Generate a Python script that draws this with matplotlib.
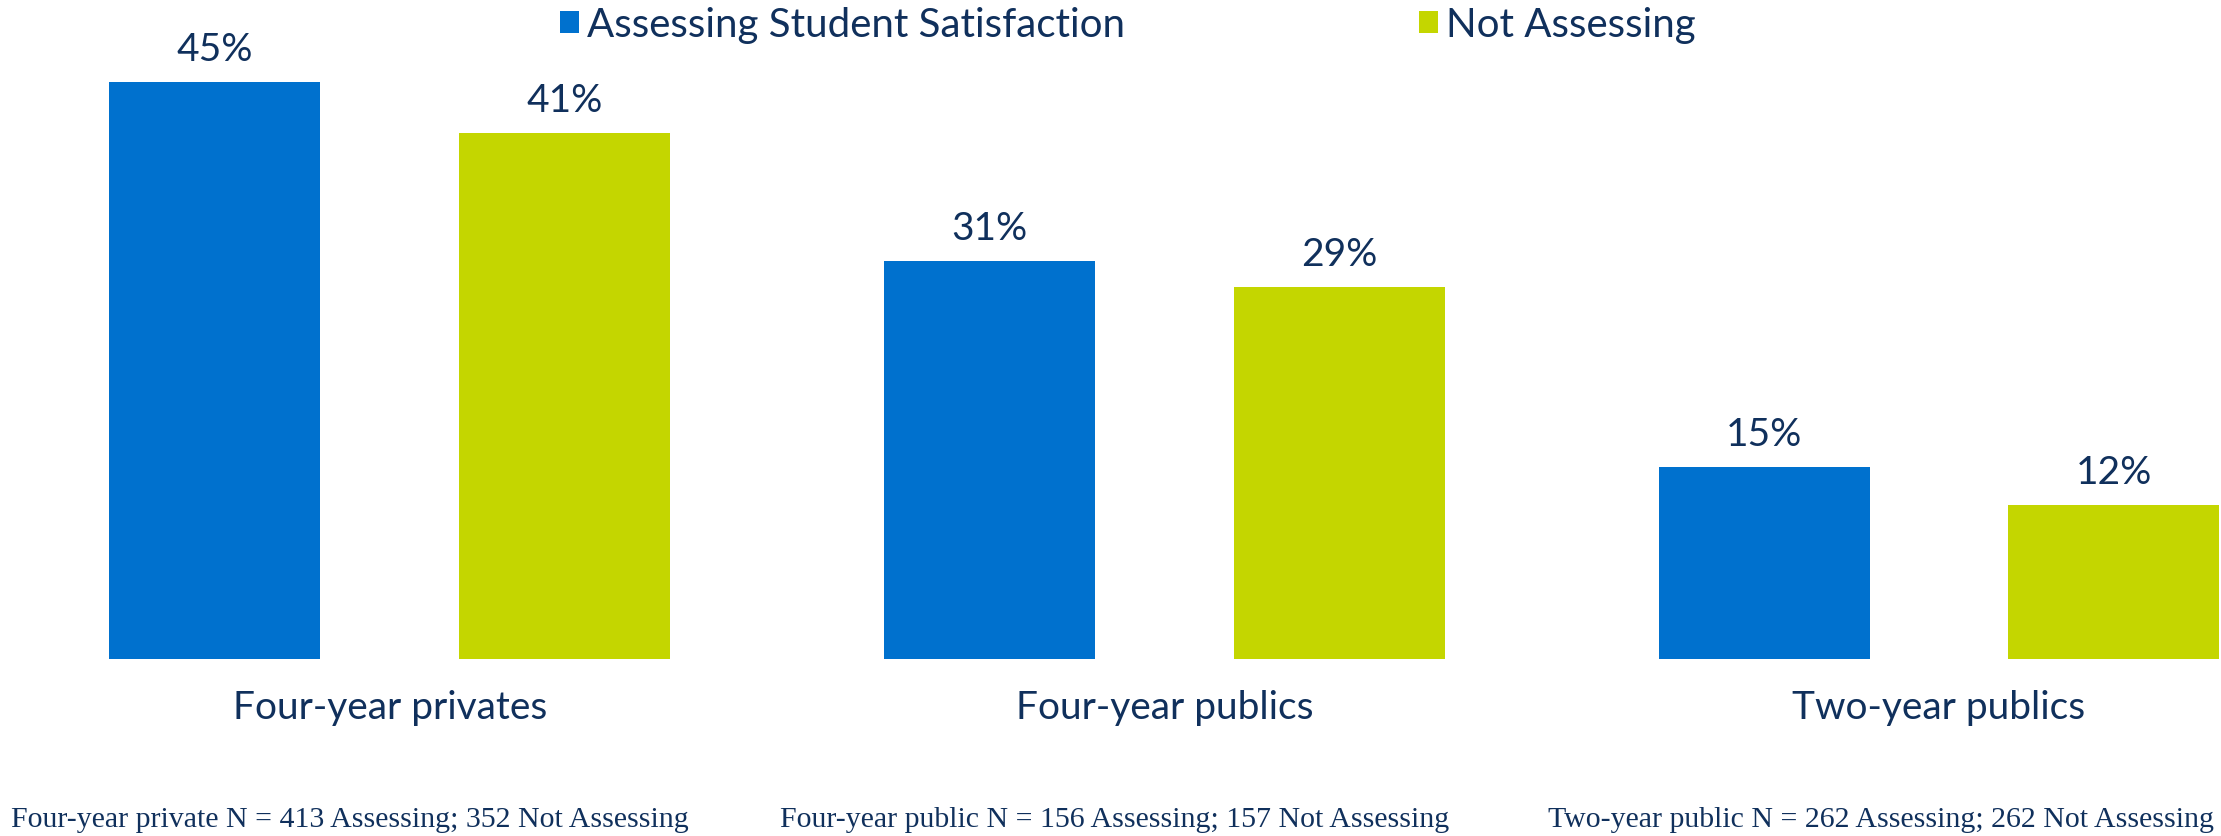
import numpy as np
import matplotlib
matplotlib.use("Agg")
import matplotlib.pyplot as plt

categories = ["Four-year privates", "Four-year publics", "Two-year publics"]
assessing = [45, 31, 15]
not_assessing = [41, 29, 12]
series_names = ["Assessing Student Satisfaction", "Not Assessing"]
notes = [
    "Four-year private N = 413 Assessing; 352 Not Assessing",
    "Four-year public N = 156 Assessing; 157 Not Assessing",
    "Two-year public N = 262 Assessing; 262 Not Assessing",
]

blue = "#0071CE"
green = "#C4D600"
navy = "#10305C"

plt.rcParams["font.family"] = ["Lato", "DejaVu Sans"]

fig = plt.figure(figsize=(22.21, 8.36), dpi=100)
ax = fig.add_axes([0, 0.2117, 1, 0.7883])

x = np.arange(len(categories))
w = 0.2725
off = 0.4516 / 2
b1 = ax.bar(x - off, assessing, w, color=blue, label=series_names[0])
b2 = ax.bar(x + off, not_assessing, w, color=green, label=series_names[1])

for bars, vals in ((b1, assessing), (b2, not_assessing)):
    for r, v in zip(bars, vals):
        ax.annotate(f"{v}%", (r.get_x() + r.get_width() / 2, v),
                    xytext=(0, 10), textcoords="offset points",
                    ha="center", va="bottom", fontsize=28, color=navy)

ax.set_xlim(-0.503, 2.364)
ax.set_ylim(0, 51.36)
ax.set_xticks(x)
ax.set_xticklabels(categories, fontsize=28, color=navy)
ax.tick_params(axis="x", length=0, pad=22)
ax.set_yticks([])
for s in ax.spines.values():
    s.set_visible(False)

ax.legend(loc="upper center", bbox_to_anchor=(0.508, 1.045), ncol=2,
          frameon=False, fontsize=29, labelcolor=navy,
          handlelength=0.45, handleheight=0.45, handletextpad=0.22,
          columnspacing=7.3)

for xs, t in zip([11, 780, 1548], notes):
    fig.text(xs / 2221, 0.011, t, ha="left", va="baseline",
             fontsize=21.5, color=navy, family="Liberation Serif")

fig.savefig("out.png", dpi=100)
